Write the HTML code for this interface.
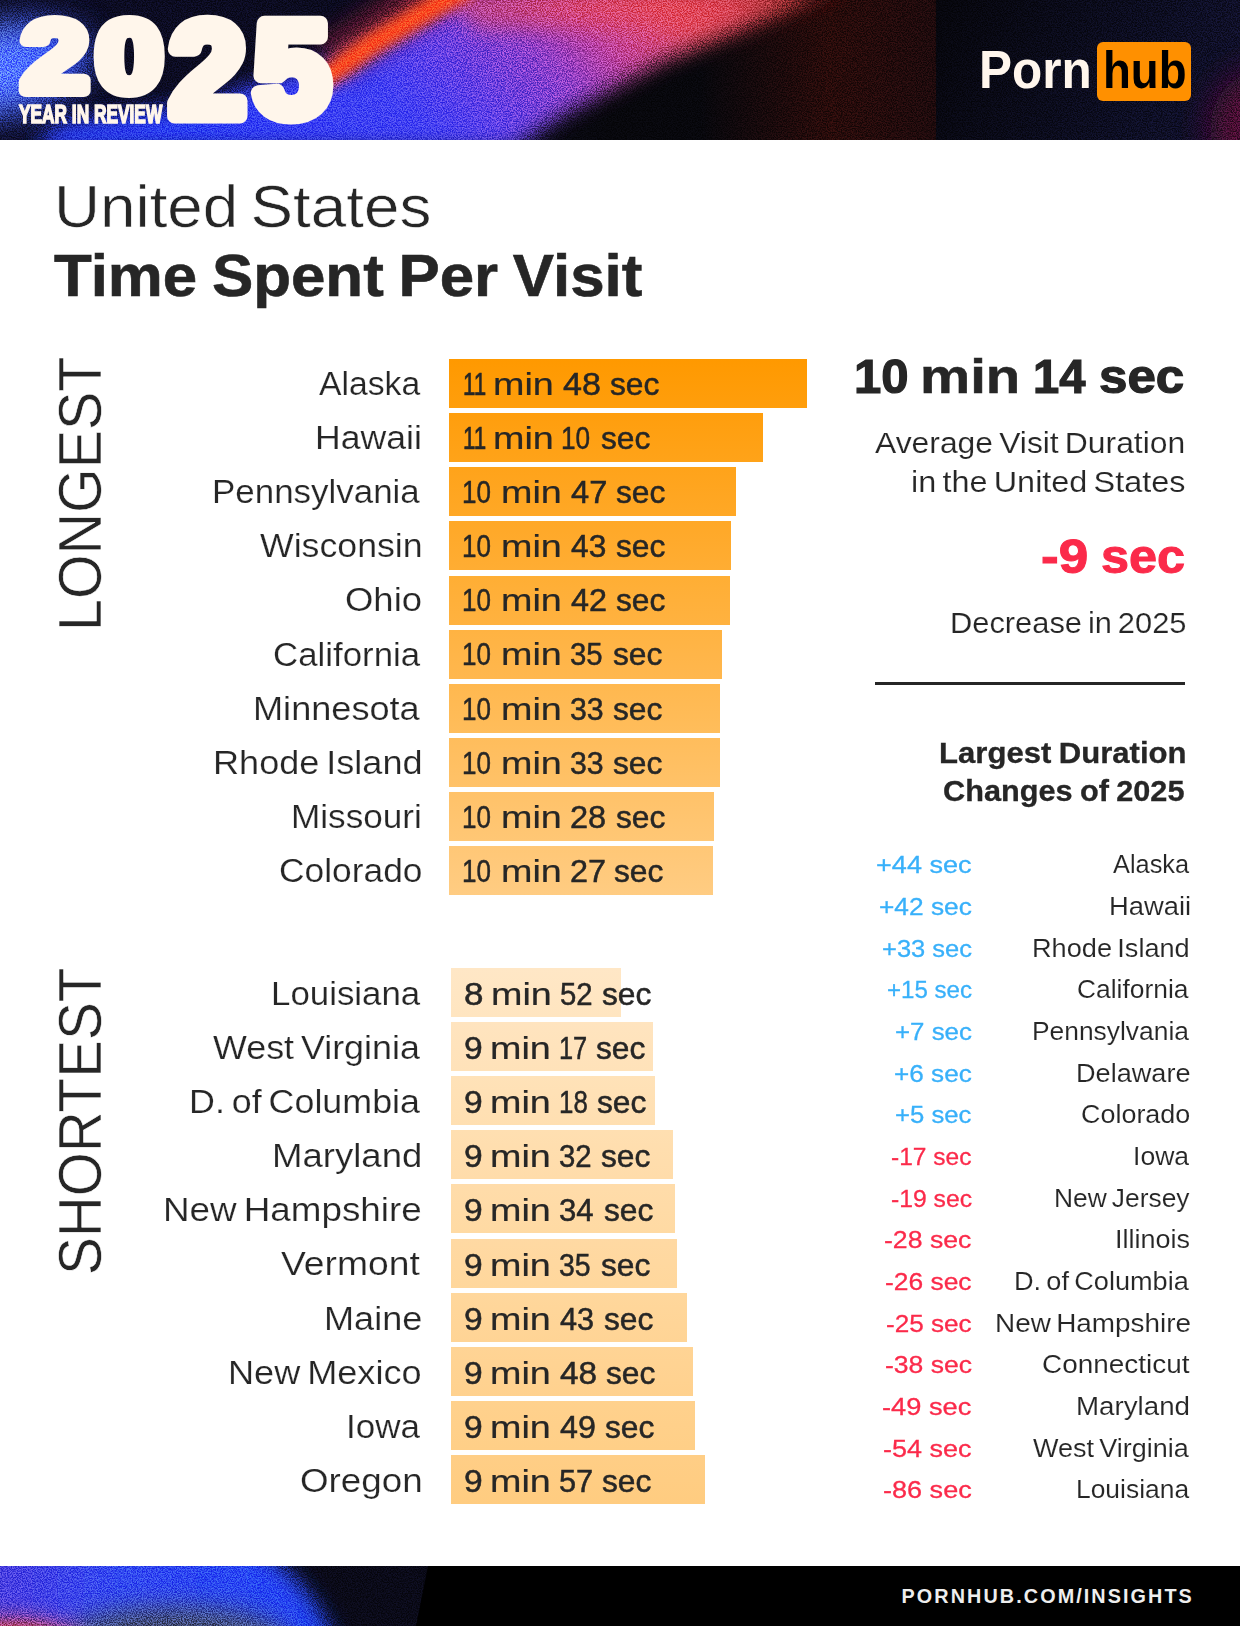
<!DOCTYPE html>
<html lang="en"><head><meta charset="utf-8"><title>United States - Time Spent Per Visit</title>
<style>
html,body{margin:0;padding:0;background:#fff;}
body{width:1240px;height:1626px;overflow:hidden;font-family:"Liberation Sans",sans-serif;color:#262626;}
#page{position:relative;width:1240px;height:1626px;overflow:hidden;background:#fff;}
h1{margin:0;font-weight:400;font-size:inherit;}
.t{position:absolute;white-space:nowrap;line-height:1;transform-origin:0 0;margin:0;padding:0;display:block;}
.bar{position:absolute;}
.rule{position:absolute;left:875.4px;top:682px;width:309.3px;height:3.2px;background:#262626;}
.hdr{position:absolute;left:0;top:0;width:1240px;height:140px;overflow:hidden;background:#0b0b1a;}
.ftr{position:absolute;left:0;top:1566px;width:1240px;height:60px;overflow:hidden;background:#000;}
.hub{position:absolute;left:1096.7px;top:42px;width:94.6px;height:58.7px;border-radius:6px;background:#ff9000;}
.vert{position:absolute;white-space:nowrap;line-height:1;transform-origin:0 0;-webkit-text-stroke:0.6px #fff;}
.hdr .bg{position:absolute;left:0;top:0;display:block;}
.yir{position:absolute;white-space:nowrap;line-height:1;transform-origin:0 0;font-weight:700;color:#fff6eb;-webkit-text-stroke:1.3px #fff6eb;left:18.8px;top:101.3px;font-size:20px;transform:scale(0.865,1.3);}

</style></head>
<body>
<div id="page">
<header class="hdr">
<svg class="bg" width="1240" height="140" viewBox="0 0 1240 140">
<defs>
<linearGradient id="beam" gradientUnits="userSpaceOnUse" x1="0" y1="0" x2="500" y2="-500">
<stop offset=".05" stop-color="#2a3cf4"/>
<stop offset=".30" stop-color="#4240f2"/>
<stop offset=".38" stop-color="#6040e6"/>
<stop offset=".49" stop-color="#8e40c8"/>
<stop offset=".57" stop-color="#c44496"/>
<stop offset=".66" stop-color="#e04a60"/>
<stop offset=".72" stop-color="#d04050"/>
<stop offset=".78" stop-color="#a03030"/>
<stop offset=".84" stop-color="#501818"/>
<stop offset=".92" stop-color="#2e0d0b"/>
</linearGradient>
<linearGradient id="base" gradientUnits="userSpaceOnUse" x1="0" y1="0" x2="936" y2="0">
<stop offset="0" stop-color="#0c0c24"/><stop offset=".45" stop-color="#0b0b1e"/><stop offset=".65" stop-color="#07070c"/><stop offset="1" stop-color="#07070c"/>
</linearGradient>
<linearGradient id="redglow" gradientUnits="userSpaceOnUse" x1="700" y1="0" x2="936" y2="0">
<stop offset="0" stop-color="#280b0a" stop-opacity="0"/>
<stop offset=".55" stop-color="#280b0a" stop-opacity="1"/>
<stop offset="1" stop-color="#1e0a0c" stop-opacity="1"/>
</linearGradient>
<linearGradient id="navy" gradientUnits="userSpaceOnUse" x1="936" y1="0" x2="1240" y2="140">
<stop offset="0" stop-color="#06060c"/>
<stop offset=".7" stop-color="#0d0e24"/>
<stop offset="1" stop-color="#12112c"/>
</linearGradient>
<filter id="b6" x="-20%" y="-50%" width="140%" height="200%"><feGaussianBlur stdDeviation="6"/></filter>
<filter id="b10" x="-20%" y="-50%" width="140%" height="200%"><feGaussianBlur stdDeviation="10"/></filter>
<filter id="b16" x="-50%" y="-50%" width="200%" height="200%"><feGaussianBlur stdDeviation="16"/></filter>
<filter id="grain" x="0" y="0" width="100%" height="100%" color-interpolation-filters="sRGB">
<feTurbulence type="fractalNoise" baseFrequency="0.8" numOctaves="2" seed="7"/>
<feColorMatrix type="matrix" values="3.2 0 0 0 -1.1  3.2 0 0 0 -1.1  3.2 0 0 0 -1.1  0 0 0 0 1"/>
</filter>
</defs>
<rect width="1240" height="140" fill="url(#base)"/>
<rect x="936" width="304" height="140" fill="url(#navy)"/>
<rect x="700" width="236" height="140" fill="url(#redglow)"/>
<g filter="url(#b10)">
<polygon points="30,150 60,122 200,104 338,56 462,-14 850,-14 760,22 660,62 560,116 510,150" fill="url(#beam)"/>
</g>
<g filter="url(#b16)">
<ellipse cx="0" cy="70" rx="92" ry="46" fill="#3c58f6" transform="rotate(-12 0 70)"/>
<ellipse cx="-6" cy="66" rx="46" ry="38" fill="#5274ff"/>
<ellipse cx="1266" cy="130" rx="56" ry="60" fill="#4c1030"/>
</g>
<g filter="url(#b10)"><polyline points="330,62 380,28 440,-12" fill="none" stroke="#8a2034" stroke-width="46" opacity=".6"/></g>
<g filter="url(#b10)" id="topglow"><polygon points="430,-12 820,-12 700,26 480,30" fill="#e6485a" opacity=".55"/></g>
<g filter="url(#b6)">
<polyline points="322,80 372,44 462,-10" fill="none" stroke="#ff4c1e" stroke-width="22" stroke-linecap="round"/>
</g>
<rect width="1240" height="140" filter="url(#grain)" opacity=".5" style="mix-blend-mode:overlay"/>
<g class="year" font-family="'Liberation Sans',sans-serif" font-weight="700" fill="#fff6eb" stroke="#fff6eb" stroke-linejoin="round" paint-order="stroke">
<text transform="translate(21.7,91.2) scale(1.185,1)" font-size="101" stroke-width="12" letter-spacing="6.5">20</text>
<text transform="translate(170,115.6) scale(1.017,1)" font-size="133" stroke-width="15" letter-spacing="9">25</text>
</g>
</svg>
<div class="yir">YEAR IN REVIEW</div>
<div class="hub"></div>
</header>
<div class="logo">
<span class="t logo" style="left:979.21px;top:43.00px;font-size:53.3px;transform:scaleX(0.9288);font-weight:700;color:#fff6ec;">Porn</span>
<span class="t logo" style="left:1103.03px;top:45.00px;font-size:51.2px;transform:scaleX(0.8902);font-weight:700;color:#000;">hub</span>
</div>
<main>
<h1>
<span class="t title" style="left:53.88px;top:177.00px;font-size:59.4px;transform:scaleX(1.0733);word-spacing:-5.05px;-webkit-text-stroke:0.6px #fff;">United States</span>
<span class="t title" style="left:53.82px;top:247.00px;font-size:58.5px;transform:scaleX(1.0572);font-weight:700;word-spacing:-2.34px;-webkit-text-stroke:0.6px #262626;">Time Spent Per Visit</span>
</h1>
<div class="vert" style="left:50.2px;top:631.2px;font-size:60.3px;transform:rotate(-90deg) scaleX(0.952);">LONGEST</div>
<div class="vert" style="left:50.2px;top:1275.2px;font-size:60.3px;transform:rotate(-90deg) scaleX(0.939);">SHORTEST</div>
<section class="chart">
<div class="bar" style="left:449.0px;top:359.0px;width:357.8px;height:49.0px;background:linear-gradient(#ff9900,#ff9e0c)"></div>
<div class="bar" style="left:449.0px;top:413.1px;width:313.9px;height:49.0px;background:linear-gradient(#ff9e0d,#ffa319)"></div>
<div class="bar" style="left:449.0px;top:467.3px;width:286.8px;height:49.0px;background:linear-gradient(#ffa31a,#ffa826)"></div>
<div class="bar" style="left:449.0px;top:521.4px;width:282.3px;height:49.0px;background:linear-gradient(#ffa827,#ffad33)"></div>
<div class="bar" style="left:449.0px;top:575.5px;width:281.0px;height:49.0px;background:linear-gradient(#ffae34,#ffb240)"></div>
<div class="bar" style="left:449.0px;top:629.7px;width:273.0px;height:49.0px;background:linear-gradient(#ffb342,#ffb74e)"></div>
<div class="bar" style="left:449.0px;top:683.8px;width:270.9px;height:49.0px;background:linear-gradient(#ffb84f,#ffbd5b)"></div>
<div class="bar" style="left:449.0px;top:737.9px;width:270.9px;height:49.0px;background:linear-gradient(#ffbd5c,#ffc268)"></div>
<div class="bar" style="left:449.0px;top:792.0px;width:264.8px;height:49.0px;background:linear-gradient(#ffc269,#ffc775)"></div>
<div class="bar" style="left:449.0px;top:846.2px;width:263.8px;height:49.0px;background:linear-gradient(#ffc776,#ffcc82)"></div>
<div class="bar" style="left:451.0px;top:968.0px;width:170.1px;height:49.0px;background:linear-gradient(#ffe7c6,#ffe5c0)"></div>
<div class="bar" style="left:451.0px;top:1022.1px;width:202.1px;height:49.0px;background:linear-gradient(#ffe4bf,#ffe2b9)"></div>
<div class="bar" style="left:451.0px;top:1076.2px;width:203.8px;height:49.0px;background:linear-gradient(#ffe2b8,#ffdfb1)"></div>
<div class="bar" style="left:451.0px;top:1130.3px;width:221.7px;height:49.0px;background:linear-gradient(#ffdfb1,#ffdcaa)"></div>
<div class="bar" style="left:451.0px;top:1184.4px;width:224.1px;height:49.0px;background:linear-gradient(#ffdcaa,#ffdaa3)"></div>
<div class="bar" style="left:451.0px;top:1238.5px;width:225.6px;height:49.0px;background:linear-gradient(#ffd9a3,#ffd79c)"></div>
<div class="bar" style="left:451.0px;top:1292.7px;width:235.7px;height:49.0px;background:linear-gradient(#ffd79c,#ffd495)"></div>
<div class="bar" style="left:451.0px;top:1346.8px;width:242.2px;height:49.0px;background:linear-gradient(#ffd495,#ffd18e)"></div>
<div class="bar" style="left:451.0px;top:1400.9px;width:243.7px;height:49.0px;background:linear-gradient(#ffd18d,#ffcf87)"></div>
<div class="bar" style="left:451.0px;top:1455.0px;width:253.9px;height:49.0px;background:linear-gradient(#ffce86,#ffcc80)"></div>
<div class="t lab" style="left:318.90px;top:367.00px;font-size:33.6px;transform:scaleX(1.0039);-webkit-text-stroke:0.2px #fff;">Alaska</div>
<div class="row val">
<span class="t" style="left:462.72px;top:369.00px;font-size:31.2px;transform:scaleX(0.7165);-webkit-text-stroke:0.7px #262626;">11</span> 
<span class="t" style="left:492.80px;top:369.00px;font-size:31.2px;transform:scaleX(1.2100);-webkit-text-stroke:0.2px #262626;">min</span> 
<span class="t" style="left:562.77px;top:369.00px;font-size:31.2px;transform:scaleX(1.0932);-webkit-text-stroke:0.5px #262626;">48</span> 
<span class="t" style="left:609.95px;top:369.00px;font-size:31.2px;transform:scaleX(1.0178);-webkit-text-stroke:0.5px #262626;">sec</span> 
</div>
<div class="t lab" style="left:314.77px;top:421.00px;font-size:33.6px;transform:scaleX(1.0607);-webkit-text-stroke:0.2px #fff;">Hawaii</div>
<div class="row val">
<span class="t" style="left:462.72px;top:423.00px;font-size:31.2px;transform:scaleX(0.7165);-webkit-text-stroke:0.7px #262626;">11</span> 
<span class="t" style="left:492.80px;top:423.00px;font-size:31.2px;transform:scaleX(1.2100);-webkit-text-stroke:0.2px #262626;">min</span> 
<span class="t" style="left:561.43px;top:423.00px;font-size:31.2px;transform:scaleX(0.8403);-webkit-text-stroke:0.5px #262626;">10</span> 
<span class="t" style="left:600.95px;top:423.00px;font-size:31.2px;transform:scaleX(1.0178);-webkit-text-stroke:0.5px #262626;">sec</span> 
</div>
<div class="t lab" style="left:212.32px;top:475.00px;font-size:33.6px;transform:scaleX(1.0401);-webkit-text-stroke:0.2px #fff;">Pennsylvania</div>
<div class="row val">
<span class="t" style="left:462.44px;top:477.00px;font-size:31.2px;transform:scaleX(0.8342);-webkit-text-stroke:0.5px #262626;">10</span> 
<span class="t" style="left:501.20px;top:477.00px;font-size:31.2px;transform:scaleX(1.2100);-webkit-text-stroke:0.2px #262626;">min</span> 
<span class="t" style="left:571.16px;top:477.00px;font-size:31.2px;transform:scaleX(1.0459);-webkit-text-stroke:0.5px #262626;">47</span> 
<span class="t" style="left:615.75px;top:477.00px;font-size:31.2px;transform:scaleX(1.0178);-webkit-text-stroke:0.5px #262626;">sec</span> 
</div>
<div class="t lab" style="left:259.69px;top:529.00px;font-size:33.6px;transform:scaleX(1.0627);-webkit-text-stroke:0.2px #fff;">Wisconsin</div>
<div class="row val">
<span class="t" style="left:462.44px;top:531.00px;font-size:31.2px;transform:scaleX(0.8342);-webkit-text-stroke:0.5px #262626;">10</span> 
<span class="t" style="left:501.20px;top:531.00px;font-size:31.2px;transform:scaleX(1.2100);-webkit-text-stroke:0.2px #262626;">min</span> 
<span class="t" style="left:571.15px;top:531.00px;font-size:31.2px;transform:scaleX(1.0164);-webkit-text-stroke:0.5px #262626;">43</span> 
<span class="t" style="left:615.75px;top:531.00px;font-size:31.2px;transform:scaleX(1.0178);-webkit-text-stroke:0.5px #262626;">sec</span> 
</div>
<div class="t lab" style="left:345.01px;top:583.00px;font-size:33.6px;transform:scaleX(1.0861);-webkit-text-stroke:0.2px #fff;">Ohio</div>
<div class="row val">
<span class="t" style="left:462.44px;top:585.00px;font-size:31.2px;transform:scaleX(0.8342);-webkit-text-stroke:0.5px #262626;">10</span> 
<span class="t" style="left:501.20px;top:585.00px;font-size:31.2px;transform:scaleX(1.2100);-webkit-text-stroke:0.2px #262626;">min</span> 
<span class="t" style="left:571.16px;top:585.00px;font-size:31.2px;transform:scaleX(1.0371);-webkit-text-stroke:0.5px #262626;">42</span> 
<span class="t" style="left:616.45px;top:585.00px;font-size:31.2px;transform:scaleX(1.0178);-webkit-text-stroke:0.5px #262626;">sec</span> 
</div>
<div class="t lab" style="left:272.96px;top:638.00px;font-size:33.6px;transform:scaleX(1.0371);-webkit-text-stroke:0.2px #fff;">California</div>
<div class="row val">
<span class="t" style="left:462.44px;top:639.00px;font-size:31.2px;transform:scaleX(0.8342);-webkit-text-stroke:0.5px #262626;">10</span> 
<span class="t" style="left:501.20px;top:639.00px;font-size:31.2px;transform:scaleX(1.2100);-webkit-text-stroke:0.2px #262626;">min</span> 
<span class="t" style="left:570.19px;top:639.00px;font-size:31.2px;transform:scaleX(0.9425);-webkit-text-stroke:0.5px #262626;">35</span> 
<span class="t" style="left:613.25px;top:639.00px;font-size:31.2px;transform:scaleX(1.0178);-webkit-text-stroke:0.5px #262626;">sec</span> 
</div>
<div class="t lab" style="left:253.34px;top:692.00px;font-size:33.6px;transform:scaleX(1.0761);-webkit-text-stroke:0.2px #fff;">Minnesota</div>
<div class="row val">
<span class="t" style="left:462.44px;top:694.00px;font-size:31.2px;transform:scaleX(0.8342);-webkit-text-stroke:0.5px #262626;">10</span> 
<span class="t" style="left:501.20px;top:694.00px;font-size:31.2px;transform:scaleX(1.2100);-webkit-text-stroke:0.2px #262626;">min</span> 
<span class="t" style="left:570.17px;top:694.00px;font-size:31.2px;transform:scaleX(0.9712);-webkit-text-stroke:0.5px #262626;">33</span> 
<span class="t" style="left:613.25px;top:694.00px;font-size:31.2px;transform:scaleX(1.0178);-webkit-text-stroke:0.5px #262626;">sec</span> 
</div>
<div class="t lab" style="left:212.74px;top:746.00px;font-size:33.6px;transform:scaleX(1.0746);word-spacing:-2.86px;-webkit-text-stroke:0.2px #fff;">Rhode Island</div>
<div class="row val">
<span class="t" style="left:462.44px;top:748.00px;font-size:31.2px;transform:scaleX(0.8342);-webkit-text-stroke:0.5px #262626;">10</span> 
<span class="t" style="left:501.20px;top:748.00px;font-size:31.2px;transform:scaleX(1.2100);-webkit-text-stroke:0.2px #262626;">min</span> 
<span class="t" style="left:570.17px;top:748.00px;font-size:31.2px;transform:scaleX(0.9712);-webkit-text-stroke:0.5px #262626;">33</span> 
<span class="t" style="left:613.25px;top:748.00px;font-size:31.2px;transform:scaleX(1.0178);-webkit-text-stroke:0.5px #262626;">sec</span> 
</div>
<div class="t lab" style="left:290.80px;top:800.00px;font-size:33.6px;transform:scaleX(1.0466);-webkit-text-stroke:0.2px #fff;">Missouri</div>
<div class="row val">
<span class="t" style="left:462.44px;top:802.00px;font-size:31.2px;transform:scaleX(0.8342);-webkit-text-stroke:0.5px #262626;">10</span> 
<span class="t" style="left:501.20px;top:802.00px;font-size:31.2px;transform:scaleX(1.2100);-webkit-text-stroke:0.2px #262626;">min</span> 
<span class="t" style="left:570.12px;top:802.00px;font-size:31.2px;transform:scaleX(1.0443);-webkit-text-stroke:0.5px #262626;">28</span> 
<span class="t" style="left:615.65px;top:802.00px;font-size:31.2px;transform:scaleX(1.0178);-webkit-text-stroke:0.5px #262626;">sec</span> 
</div>
<div class="t lab" style="left:278.54px;top:854.00px;font-size:33.6px;transform:scaleX(1.0529);-webkit-text-stroke:0.2px #fff;">Colorado</div>
<div class="row val">
<span class="t" style="left:462.44px;top:856.00px;font-size:31.2px;transform:scaleX(0.8342);-webkit-text-stroke:0.5px #262626;">10</span> 
<span class="t" style="left:501.20px;top:856.00px;font-size:31.2px;transform:scaleX(1.2100);-webkit-text-stroke:0.2px #262626;">min</span> 
<span class="t" style="left:570.12px;top:856.00px;font-size:31.2px;transform:scaleX(1.0382);-webkit-text-stroke:0.5px #262626;">27</span> 
<span class="t" style="left:614.45px;top:856.00px;font-size:31.2px;transform:scaleX(1.0178);-webkit-text-stroke:0.5px #262626;">sec</span> 
</div>
<div class="t lab" style="left:270.82px;top:977.00px;font-size:33.6px;transform:scaleX(1.0382);-webkit-text-stroke:0.2px #fff;">Louisiana</div>
<div class="row val">
<span class="t" style="left:463.76px;top:979.00px;font-size:31.2px;transform:scaleX(1.1226);-webkit-text-stroke:0.5px #262626;">8</span> 
<span class="t" style="left:490.60px;top:979.00px;font-size:31.2px;transform:scaleX(1.2100);-webkit-text-stroke:0.2px #262626;">min</span> 
<span class="t" style="left:559.59px;top:979.00px;font-size:31.2px;transform:scaleX(0.9408);-webkit-text-stroke:0.5px #262626;">52</span> 
<span class="t" style="left:601.65px;top:979.00px;font-size:31.2px;transform:scaleX(1.0178);-webkit-text-stroke:0.5px #262626;">sec</span> 
</div>
<div class="t lab" style="left:213.19px;top:1031.00px;font-size:33.6px;transform:scaleX(1.0678);word-spacing:-2.86px;-webkit-text-stroke:0.2px #fff;">West Virginia</div>
<div class="row val">
<span class="t" style="left:463.79px;top:1033.00px;font-size:31.2px;transform:scaleX(1.0774);-webkit-text-stroke:0.5px #262626;">9</span> 
<span class="t" style="left:490.10px;top:1033.00px;font-size:31.2px;transform:scaleX(1.2100);-webkit-text-stroke:0.2px #262626;">min</span> 
<span class="t" style="left:558.78px;top:1033.00px;font-size:31.2px;transform:scaleX(0.8133);-webkit-text-stroke:0.5px #262626;">17</span> 
<span class="t" style="left:595.55px;top:1033.00px;font-size:31.2px;transform:scaleX(1.0178);-webkit-text-stroke:0.5px #262626;">sec</span> 
</div>
<div class="t lab" style="left:189.06px;top:1085.00px;font-size:33.6px;transform:scaleX(1.0677);word-spacing:-2.86px;-webkit-text-stroke:0.2px #fff;">D. of Columbia</div>
<div class="row val">
<span class="t" style="left:463.79px;top:1087.00px;font-size:31.2px;transform:scaleX(1.0774);-webkit-text-stroke:0.5px #262626;">9</span> 
<span class="t" style="left:490.10px;top:1087.00px;font-size:31.2px;transform:scaleX(1.2100);-webkit-text-stroke:0.2px #262626;">min</span> 
<span class="t" style="left:558.75px;top:1087.00px;font-size:31.2px;transform:scaleX(0.8290);-webkit-text-stroke:0.5px #262626;">18</span> 
<span class="t" style="left:597.05px;top:1087.00px;font-size:31.2px;transform:scaleX(1.0178);-webkit-text-stroke:0.5px #262626;">sec</span> 
</div>
<div class="t lab" style="left:272.01px;top:1139.00px;font-size:33.6px;transform:scaleX(1.0885);-webkit-text-stroke:0.2px #fff;">Maryland</div>
<div class="row val">
<span class="t" style="left:463.79px;top:1141.00px;font-size:31.2px;transform:scaleX(1.0774);-webkit-text-stroke:0.5px #262626;">9</span> 
<span class="t" style="left:490.10px;top:1141.00px;font-size:31.2px;transform:scaleX(1.2100);-webkit-text-stroke:0.2px #262626;">min</span> 
<span class="t" style="left:559.09px;top:1141.00px;font-size:31.2px;transform:scaleX(0.9408);-webkit-text-stroke:0.5px #262626;">32</span> 
<span class="t" style="left:601.15px;top:1141.00px;font-size:31.2px;transform:scaleX(1.0178);-webkit-text-stroke:0.5px #262626;">sec</span> 
</div>
<div class="t lab" style="left:163.10px;top:1193.00px;font-size:33.6px;transform:scaleX(1.0964);word-spacing:-2.86px;-webkit-text-stroke:0.2px #fff;">New Hampshire</div>
<div class="row val">
<span class="t" style="left:463.79px;top:1195.00px;font-size:31.2px;transform:scaleX(1.0774);-webkit-text-stroke:0.5px #262626;">9</span> 
<span class="t" style="left:490.10px;top:1195.00px;font-size:31.2px;transform:scaleX(1.2100);-webkit-text-stroke:0.2px #262626;">min</span> 
<span class="t" style="left:559.05px;top:1195.00px;font-size:31.2px;transform:scaleX(0.9987);-webkit-text-stroke:0.5px #262626;">34</span> 
<span class="t" style="left:604.05px;top:1195.00px;font-size:31.2px;transform:scaleX(1.0178);-webkit-text-stroke:0.5px #262626;">sec</span> 
</div>
<div class="t lab" style="left:281.39px;top:1247.00px;font-size:33.6px;transform:scaleX(1.1098);-webkit-text-stroke:0.2px #fff;">Vermont</div>
<div class="row val">
<span class="t" style="left:463.79px;top:1250.00px;font-size:31.2px;transform:scaleX(1.0774);-webkit-text-stroke:0.5px #262626;">9</span> 
<span class="t" style="left:490.10px;top:1250.00px;font-size:31.2px;transform:scaleX(1.2100);-webkit-text-stroke:0.2px #262626;">min</span> 
<span class="t" style="left:559.12px;top:1250.00px;font-size:31.2px;transform:scaleX(0.9130);-webkit-text-stroke:0.5px #262626;">35</span> 
<span class="t" style="left:601.15px;top:1250.00px;font-size:31.2px;transform:scaleX(1.0178);-webkit-text-stroke:0.5px #262626;">sec</span> 
</div>
<div class="t lab" style="left:323.54px;top:1302.00px;font-size:33.6px;transform:scaleX(1.0747);-webkit-text-stroke:0.2px #fff;">Maine</div>
<div class="row val">
<span class="t" style="left:463.79px;top:1304.00px;font-size:31.2px;transform:scaleX(1.0774);-webkit-text-stroke:0.5px #262626;">9</span> 
<span class="t" style="left:490.10px;top:1304.00px;font-size:31.2px;transform:scaleX(1.2100);-webkit-text-stroke:0.2px #262626;">min</span> 
<span class="t" style="left:560.05px;top:1304.00px;font-size:31.2px;transform:scaleX(0.9839);-webkit-text-stroke:0.5px #262626;">43</span> 
<span class="t" style="left:603.55px;top:1304.00px;font-size:31.2px;transform:scaleX(1.0178);-webkit-text-stroke:0.5px #262626;">sec</span> 
</div>
<div class="t lab" style="left:228.44px;top:1356.00px;font-size:33.6px;transform:scaleX(1.0755);word-spacing:-2.86px;-webkit-text-stroke:0.2px #fff;">New Mexico</div>
<div class="row val">
<span class="t" style="left:463.79px;top:1358.00px;font-size:31.2px;transform:scaleX(1.0774);-webkit-text-stroke:0.5px #262626;">9</span> 
<span class="t" style="left:490.10px;top:1358.00px;font-size:31.2px;transform:scaleX(1.2100);-webkit-text-stroke:0.2px #262626;">min</span> 
<span class="t" style="left:560.07px;top:1358.00px;font-size:31.2px;transform:scaleX(1.0696);-webkit-text-stroke:0.5px #262626;">48</span> 
<span class="t" style="left:606.45px;top:1358.00px;font-size:31.2px;transform:scaleX(1.0178);-webkit-text-stroke:0.5px #262626;">sec</span> 
</div>
<div class="t lab" style="left:346.07px;top:1410.00px;font-size:33.6px;transform:scaleX(1.0433);-webkit-text-stroke:0.2px #fff;">Iowa</div>
<div class="row val">
<span class="t" style="left:463.79px;top:1412.00px;font-size:31.2px;transform:scaleX(1.0774);-webkit-text-stroke:0.5px #262626;">9</span> 
<span class="t" style="left:490.10px;top:1412.00px;font-size:31.2px;transform:scaleX(1.2100);-webkit-text-stroke:0.2px #262626;">min</span> 
<span class="t" style="left:560.06px;top:1412.00px;font-size:31.2px;transform:scaleX(1.0341);-webkit-text-stroke:0.5px #262626;">49</span> 
<span class="t" style="left:605.25px;top:1412.00px;font-size:31.2px;transform:scaleX(1.0178);-webkit-text-stroke:0.5px #262626;">sec</span> 
</div>
<div class="t lab" style="left:299.70px;top:1464.00px;font-size:33.6px;transform:scaleX(1.0951);-webkit-text-stroke:0.2px #fff;">Oregon</div>
<div class="row val">
<span class="t" style="left:463.79px;top:1466.00px;font-size:31.2px;transform:scaleX(1.0774);-webkit-text-stroke:0.5px #262626;">9</span> 
<span class="t" style="left:490.10px;top:1466.00px;font-size:31.2px;transform:scaleX(1.2100);-webkit-text-stroke:0.2px #262626;">min</span> 
<span class="t" style="left:559.06px;top:1466.00px;font-size:31.2px;transform:scaleX(0.9865);-webkit-text-stroke:0.5px #262626;">57</span> 
<span class="t" style="left:601.65px;top:1466.00px;font-size:31.2px;transform:scaleX(1.0178);-webkit-text-stroke:0.5px #262626;">sec</span> 
</div>
</section>
<aside>
<div class="row big">
<span class="t" style="left:853.65px;top:353.00px;font-size:47.5px;transform:scaleX(1.0332);font-weight:700;-webkit-text-stroke:1.2px #262626;">10</span> 
<span class="t" style="left:919.52px;top:353.00px;font-size:47.5px;transform:scaleX(1.1876);font-weight:700;-webkit-text-stroke:0.48px #262626;">min</span> 
<span class="t" style="left:1032.61px;top:353.00px;font-size:47.5px;transform:scaleX(0.9921);font-weight:700;-webkit-text-stroke:1.2px #262626;">14</span> 
<span class="t" style="left:1099.47px;top:353.00px;font-size:47.5px;transform:scaleX(1.0755);font-weight:700;-webkit-text-stroke:1.2px #262626;">sec</span> 
</div>
<div class="t sub" style="left:875.32px;top:429.00px;font-size:29.2px;transform:scaleX(1.0908);word-spacing:-2.48px;-webkit-text-stroke:0.15px #fff;">Average Visit Duration</div>
<div class="t sub" style="left:910.81px;top:468.00px;font-size:29.2px;transform:scaleX(1.1097);word-spacing:-2.48px;-webkit-text-stroke:0.15px #fff;">in the United States</div>
<div class="row big">
<span class="t" style="left:1040.64px;top:533.00px;font-size:47.5px;transform:scaleX(1.1172);font-weight:700;color:#fb2a4a;-webkit-text-stroke:1.0px #fb2a4a;">-9</span> 
<span class="t" style="left:1100.77px;top:533.00px;font-size:47.5px;transform:scaleX(1.0604);font-weight:700;color:#fb2a4a;-webkit-text-stroke:1.0px #fb2a4a;">sec</span> 
</div>
<div class="t sub" style="left:949.61px;top:609.00px;font-size:29.2px;transform:scaleX(1.0565);word-spacing:-2.48px;-webkit-text-stroke:0.15px #fff;">Decrease in 2025</div>
<div class="rule"></div>
<div class="t h3" style="left:938.68px;top:739.00px;font-size:28.8px;transform:scaleX(1.0799);font-weight:700;word-spacing:-1.15px;-webkit-text-stroke:0.3px #262626;">Largest Duration</div>
<div class="t h3" style="left:943.09px;top:777.00px;font-size:28.8px;transform:scaleX(1.0658);font-weight:700;word-spacing:-1.15px;-webkit-text-stroke:0.3px #262626;">Changes of 2025</div>
<div class="t cv" style="left:876.07px;top:853.00px;font-size:24.8px;transform:scaleX(1.0921);color:#38b0fa;-webkit-text-stroke:0.3px #38b0fa;">+44 sec</div>
<div class="t cn" style="left:1112.75px;top:852.00px;font-size:24.9px;transform:scaleX(1.0192);-webkit-text-stroke:0.1px #fff;">Alaska</div>
<div class="t cv" style="left:878.80px;top:895.00px;font-size:24.8px;transform:scaleX(1.0608);color:#38b0fa;-webkit-text-stroke:0.3px #38b0fa;">+42 sec</div>
<div class="t cn" style="left:1108.65px;top:894.00px;font-size:24.9px;transform:scaleX(1.0990);-webkit-text-stroke:0.1px #fff;">Hawaii</div>
<div class="t cv" style="left:881.63px;top:937.00px;font-size:24.8px;transform:scaleX(1.0284);color:#38b0fa;-webkit-text-stroke:0.3px #38b0fa;">+33 sec</div>
<div class="t cn" style="left:1032.46px;top:936.00px;font-size:24.9px;transform:scaleX(1.0910);word-spacing:-2.12px;-webkit-text-stroke:0.1px #fff;">Rhode Island</div>
<div class="t cv" style="left:886.57px;top:978.00px;font-size:24.8px;transform:scaleX(0.9718);color:#38b0fa;-webkit-text-stroke:0.3px #38b0fa;">+15 sec</div>
<div class="t cn" style="left:1077.39px;top:977.00px;font-size:24.9px;transform:scaleX(1.0605);-webkit-text-stroke:0.1px #fff;">California</div>
<div class="t cv" style="left:894.71px;top:1020.00px;font-size:24.8px;transform:scaleX(1.0434);color:#38b0fa;-webkit-text-stroke:0.3px #38b0fa;">+7 sec</div>
<div class="t cn" style="left:1031.93px;top:1019.00px;font-size:24.9px;transform:scaleX(1.0601);-webkit-text-stroke:0.1px #fff;">Pennsylvania</div>
<div class="t cv" style="left:893.90px;top:1062.00px;font-size:24.8px;transform:scaleX(1.0544);color:#38b0fa;-webkit-text-stroke:0.3px #38b0fa;">+6 sec</div>
<div class="t cn" style="left:1076.27px;top:1061.00px;font-size:24.9px;transform:scaleX(1.0891);-webkit-text-stroke:0.1px #fff;">Delaware</div>
<div class="t cv" style="left:895.32px;top:1103.00px;font-size:24.8px;transform:scaleX(1.0351);color:#38b0fa;-webkit-text-stroke:0.3px #38b0fa;">+5 sec</div>
<div class="t cn" style="left:1081.46px;top:1102.00px;font-size:24.9px;transform:scaleX(1.0821);-webkit-text-stroke:0.1px #fff;">Colorado</div>
<div class="t cv" style="left:891.26px;top:1145.00px;font-size:24.8px;transform:scaleX(0.9886);color:#fb2a4a;-webkit-text-stroke:0.3px #fb2a4a;">-17 sec</div>
<div class="t cn" style="left:1132.81px;top:1144.00px;font-size:24.9px;transform:scaleX(1.0665);-webkit-text-stroke:0.1px #fff;">Iowa</div>
<div class="t cv" style="left:890.65px;top:1187.00px;font-size:24.8px;transform:scaleX(0.9960);color:#fb2a4a;-webkit-text-stroke:0.3px #fb2a4a;">-19 sec</div>
<div class="t cn" style="left:1053.93px;top:1186.00px;font-size:24.9px;transform:scaleX(1.0597);word-spacing:-2.12px;-webkit-text-stroke:0.1px #fff;">New Jersey</div>
<div class="t cv" style="left:884.29px;top:1228.00px;font-size:24.8px;transform:scaleX(1.0746);color:#fb2a4a;-webkit-text-stroke:0.3px #fb2a4a;">-28 sec</div>
<div class="t cn" style="left:1114.98px;top:1227.00px;font-size:24.9px;transform:scaleX(1.0852);-webkit-text-stroke:0.1px #fff;">Illinois</div>
<div class="t cv" style="left:885.10px;top:1270.00px;font-size:24.8px;transform:scaleX(1.0646);color:#fb2a4a;-webkit-text-stroke:0.3px #fb2a4a;">-26 sec</div>
<div class="t cn" style="left:1014.07px;top:1269.00px;font-size:24.9px;transform:scaleX(1.0900);word-spacing:-2.12px;-webkit-text-stroke:0.1px #fff;">D. of Columbia</div>
<div class="t cv" style="left:886.00px;top:1312.00px;font-size:24.8px;transform:scaleX(1.0534);color:#fb2a4a;-webkit-text-stroke:0.3px #fb2a4a;">-25 sec</div>
<div class="t cn" style="left:994.80px;top:1311.00px;font-size:24.9px;transform:scaleX(1.1204);word-spacing:-2.12px;-webkit-text-stroke:0.1px #fff;">New Hampshire</div>
<div class="t cv" style="left:884.59px;top:1353.00px;font-size:24.8px;transform:scaleX(1.0708);color:#fb2a4a;-webkit-text-stroke:0.3px #fb2a4a;">-38 sec</div>
<div class="t cn" style="left:1042.02px;top:1352.00px;font-size:24.9px;transform:scaleX(1.1225);-webkit-text-stroke:0.1px #fff;">Connecticut</div>
<div class="t cv" style="left:882.37px;top:1395.00px;font-size:24.8px;transform:scaleX(1.0983);color:#fb2a4a;-webkit-text-stroke:0.3px #fb2a4a;">-49 sec</div>
<div class="t cn" style="left:1076.22px;top:1394.00px;font-size:24.9px;transform:scaleX(1.1134);-webkit-text-stroke:0.1px #fff;">Maryland</div>
<div class="t cv" style="left:883.17px;top:1437.00px;font-size:24.8px;transform:scaleX(1.0883);color:#fb2a4a;-webkit-text-stroke:0.3px #fb2a4a;">-54 sec</div>
<div class="t cn" style="left:1033.25px;top:1436.00px;font-size:24.9px;transform:scaleX(1.0838);word-spacing:-2.12px;-webkit-text-stroke:0.1px #fff;">West Virginia</div>
<div class="t cv" style="left:882.97px;top:1478.00px;font-size:24.8px;transform:scaleX(1.0908);color:#fb2a4a;-webkit-text-stroke:0.3px #fb2a4a;">-86 sec</div>
<div class="t cn" style="left:1075.82px;top:1477.00px;font-size:24.9px;transform:scaleX(1.0610);-webkit-text-stroke:0.1px #fff;">Louisiana</div>
</aside>
</main>
<footer class="ftr">
<svg class="bg" width="1240" height="60" viewBox="0 0 1240 60">
<defs>
<filter id="f8" x="-20%" y="-100%" width="140%" height="300%"><feGaussianBlur stdDeviation="10"/></filter>
<filter id="f14" x="-30%" y="-100%" width="160%" height="300%"><feGaussianBlur stdDeviation="12"/></filter>
<linearGradient id="fblue" gradientUnits="userSpaceOnUse" x1="0" y1="0" x2="330" y2="0">
<stop offset="0" stop-color="#4a3fe0"/><stop offset=".35" stop-color="#3348f0"/><stop offset="1" stop-color="#2244f4"/>
</linearGradient>
<clipPath id="fclip"><polygon points="0,0 428,0 416,60 0,60"/></clipPath>
</defs>
<rect width="1240" height="60" fill="#000"/>
<g clip-path="url(#fclip)">
<rect width="430" height="60" fill="#0a0a18"/>
<g filter="url(#f8)">
<path d="M-20,-20 L256,-20 Q316,20 336,80 L-20,80 Z" fill="url(#fblue)"/>
</g>
<g filter="url(#f14)">
<ellipse cx="175" cy="74" rx="115" ry="34" fill="#46527c"/>
<ellipse cx="160" cy="84" rx="70" ry="20" fill="#34364a"/>
<ellipse cx="10" cy="72" rx="62" ry="15" fill="#ff4a1c"/>
</g>
<rect width="430" height="60" filter="url(#grain)" opacity=".5" style="mix-blend-mode:overlay"/>
</g>
</svg>
</footer>
<div class="t foot" style="left:901.60px;top:1587.00px;font-size:19.8px;transform:scaleX(1.0000);font-weight:700;color:#eeeeee;letter-spacing:2.086px;">PORNHUB.COM/INSIGHTS</div>
</div>
</body></html>
